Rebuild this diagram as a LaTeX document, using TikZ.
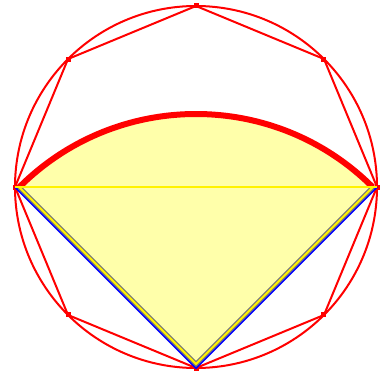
\documentclass[tikz,border=0pt]{standalone}
\usetikzlibrary{calc}
\definecolor{sectorfill}{RGB}{255,255,170}
\definecolor{rimgray}{RGB}{120,120,120}
\tikzset{
  redline/.style={red, line width=2pt},
  vertbox/.style={fill=red, inner sep=0pt, minimum size=5pt},
}
\begin{document}
\begin{tikzpicture}[x=1pt,y=1pt,>=stealth]
  \useasboundingbox (0,0) rectangle (383,376);

  % -------------------------
  % Cirkel en achthoek
  % -------------------------
  \coordinate (c) at (196,189);
  \foreach \i in {0,...,7}
    \coordinate (v\i) at ([shift={(c)}]\i*45:181);
  \coordinate (apex) at (196,12);

  \draw[redline] (c) circle (181);
  \draw[redline] (v0) -- (v1) -- (v2) -- (v3) -- (v4) -- (v5) -- (v6) -- (v7) -- cycle;

  % -------------------------
  % Sector
  % -------------------------
  \fill[sectorfill] (apex) -- ++(45:250) arc[start angle=45, end angle=135, radius=250] -- cycle;
  \draw[red, line width=6pt] ($(apex)+(45:250)$) arc[start angle=45, end angle=135, radius=250];

  \foreach \i in {0,...,7}
    \node[vertbox] (p\i) at (v\i) {};

  % Driehoek
  \draw[blue, line width=2pt, line join=miter] (v4) -- (v6) -- (v0);
  \draw[rimgray, line width=4.5pt] ($(apex)+(135:250)$) -- (apex) -- ($(apex)+(45:250)$);
  \draw[yellow, line width=2pt] ($(apex)+(135:250)$) -- (apex) -- ($(apex)+(45:250)$);
  \draw[yellow, line width=2.5pt] (v4) -- (v0);

\end{tikzpicture}
\end{document}
